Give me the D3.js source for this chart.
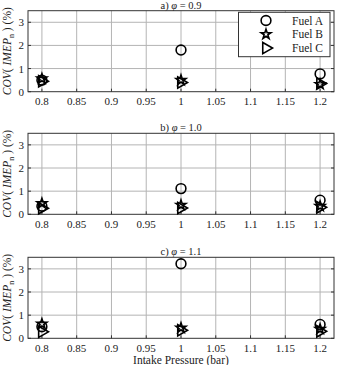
<!DOCTYPE html>
<html>
<head>
<meta charset="utf-8">
<script src="https://cdn.jsdelivr.net/npm/d3@7"></script>
<style>
  body { margin: 0; background: #fff; }
  text { font-family: "Liberation Serif", "DejaVu Serif", serif; fill: #222; }
</style>
</head>
<body>
<svg width="338" height="365"></svg>
<script>
// data
const pressures = [0.8, 1.0, 1.2]
const panelLetters = ["a)", "b)", "c)"]
const phiValues = ["0.9", "1.0", "1.1"]
const fuels = ["Fuel A", "Fuel B", "Fuel C"]
// COV(IMEPn) per panel, in the order of pressures
const fuelA = [[0.5, 1.8, 0.77], [0.35, 1.11, 0.61], [0.5, 3.22, 0.6]]
const fuelB = [[0.56, 0.5, 0.32], [0.47, 0.4, 0.35], [0.62, 0.45, 0.4]]
const fuelC = [[0.45, 0.4, 0.35], [0.26, 0.27, 0.3], [0.28, 0.35, 0.3]]
const xTicks = [0.8, 0.85, 0.9, 0.95, 1, 1.05, 1.1, 1.15, 1.2]
const yTicks = [0, 1, 2, 3]

const svg = d3.select("svg")
const left = 28, right = 334
const panelTops = [10.7, 133.3, 257.3]
const panelH = 81

const x = d3.scaleLinear().domain([0.78, 1.22]).range([left, right])
const series = [fuelA, fuelB, fuelC]
const symbols = [
  d3.symbol().type(d3.symbolCircle).size(75),
  d3.symbol().type(d3.symbolStar).size(30),
  d3.symbol().type(d3.symbolTriangle).size(55)
]
const rot = [0, 0, 90]

panelLetters.forEach((letter, p) => {
  const top = panelTops[p]
  const y = d3.scaleLinear().domain([0, 3.5]).range([top + panelH, top])
  const g = svg.append("g")

  // grid
  g.selectAll("line.vx").data(xTicks).enter().append("line")
    .attr("x1", d => x(d)).attr("x2", d => x(d))
    .attr("y1", top).attr("y2", top + panelH)
    .style("stroke", "#b4b4b4").style("stroke-width", "1px")
  g.selectAll("line.hy").data(yTicks.slice(1)).enter().append("line")
    .attr("x1", left).attr("x2", right)
    .attr("y1", d => y(d)).attr("y2", d => y(d))
    .style("stroke", "#b4b4b4").style("stroke-width", "1px")

  // inner tick marks
  g.selectAll("line.tx").data(xTicks).enter().append("line")
    .attr("x1", d => x(d)).attr("x2", d => x(d))
    .attr("y1", top + panelH).attr("y2", top + panelH - 3)
    .style("stroke", "#333")
  g.selectAll("line.ty").data(yTicks).enter().append("line")
    .attr("x1", left).attr("x2", left + 3)
    .attr("y1", d => y(d)).attr("y2", d => y(d))
    .style("stroke", "#333")
  g.selectAll("line.tyr").data(yTicks).enter().append("line")
    .attr("x1", right).attr("x2", right - 3)
    .attr("y1", d => y(d)).attr("y2", d => y(d))
    .style("stroke", "#333")

  // box
  g.append("rect")
    .attr("x", left).attr("y", top)
    .attr("width", right - left).attr("height", panelH)
    .style("fill", "none").style("stroke", "#333").style("stroke-width", "1px")

  // tick labels
  g.selectAll("text.xt").data(xTicks).enter().append("text")
    .attr("x", d => x(d)).attr("y", top + panelH + 13.5)
    .attr("text-anchor", "middle").style("font-size", "11px")
    .text(d => d)
  g.selectAll("text.yt").data(yTicks).enter().append("text")
    .attr("x", left - 4).attr("y", d => y(d) + 4)
    .attr("text-anchor", "end").style("font-size", "11px")
    .text(d => d)

  // title
  const t = g.append("text")
    .attr("x", x(1)).attr("y", top - 2)
    .attr("text-anchor", "middle").style("font-size", "10.5px")
  t.append("tspan").text(letter + " ")
  t.append("tspan").style("font-style", "italic").text("\u03C6")
  t.append("tspan").text(" = " + phiValues[p])

  // y label
  const yl = g.append("text")
    .attr("transform", "translate(11," + (top + panelH / 2) + ") rotate(-90)")
    .attr("text-anchor", "middle").style("font-size", "11.5px")
  yl.append("tspan").style("font-style", "italic").text("COV")
  yl.append("tspan").text("( ")
  yl.append("tspan").style("font-style", "italic").text("IMEP")
  yl.append("tspan").attr("dy", 3).style("font-size", "8px").text("n")
  yl.append("tspan").attr("dy", -3).text(" ) (%)")

  // markers
  series.forEach((s, k) => {
    g.selectAll("path.m" + k).data(s[p]).enter().append("path")
      .attr("d", symbols[k])
      .attr("transform", (d, i) => "translate(" + x(pressures[i]) + "," + y(d) + ") rotate(" + rot[k] + ")")
      .style("fill", "none").style("stroke", "#000").style("stroke-width", "1.6px")
  })
})

// legend in first panel
const lg = svg.append("g")
lg.append("rect")
  .attr("x", 238.5).attr("y", 12.3).attr("width", 91.5).attr("height", 44.4)
  .style("fill", "#fff").style("stroke", "#333").style("stroke-width", "1px")
fuels.forEach((f, k) => {
  const ly = 20.5 + k * 13.8
  lg.append("path").attr("d", symbols[k])
    .attr("transform", "translate(266," + ly + ") rotate(" + rot[k] + ")")
    .style("fill", "none").style("stroke", "#000").style("stroke-width", "1.6px")
  lg.append("text").attr("x", 323).attr("y", ly + 4)
    .attr("text-anchor", "end").style("font-size", "11.5px").text(f)
})

// x axis label
svg.append("text")
  .attr("x", x(1)).attr("y", 364)
  .attr("text-anchor", "middle").style("font-size", "11.5px")
  .text("Intake Pressure (bar)")
</script>
</body>
</html>
